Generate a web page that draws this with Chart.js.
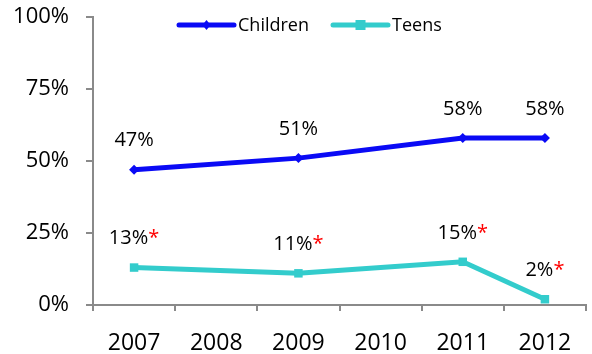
<!DOCTYPE html>
<html lang="en">
<head>
    <meta charset="UTF-8">
    <title>Children and Teens</title>
    <script src="https://cdn.jsdelivr.net/npm/chart.js"></script>
    <style>
        body { margin: 0; background: #fff; }
        #chart { display: block; }
    </style>
</head>
<body>
    <canvas id="chart" width="592" height="354"></canvas>
    <script>
        const years = ['2007', '2008', '2009', '2010', '2011', '2012'];
        const children = [47, null, 51, null, 58, 58];
        const teens = [13, null, 11, null, 15, 2];
        const yTicks = [0, 25, 50, 75, 100];

        const FONT = '"Open Sans", sans-serif';
        const AXIS = '#8a8a8a';

        // value labels above each point, teens get a red asterisk
        const valueLabels = {
            id: 'valueLabels',
            afterDatasetsDraw(chart) {
                const ctx = chart.ctx;
                ctx.save();
                ctx.font = '20px ' + FONT;
                ctx.textBaseline = 'middle';
                chart.data.datasets.forEach((ds, i) => {
                    const meta = chart.getDatasetMeta(i);
                    meta.data.forEach((pt, j) => {
                        const v = ds.data[j];
                        if (v === null) return;
                        const txt = v + '%';
                        const star = ds.star ? '*' : '';
                        const w1 = ctx.measureText(txt).width;
                        const w2 = star ? ctx.measureText(star).width : 0;
                        const x0 = pt.x - (w1 + w2) / 2;
                        const y = pt.y - 29;
                        ctx.textAlign = 'left';
                        ctx.fillStyle = '#000';
                        ctx.fillText(txt, x0, y);
                        if (star) {
                            ctx.fillStyle = '#ff0000';
                            ctx.fillText(star, x0 + w1, y);
                        }
                    });
                });
                ctx.restore();
            }
        };

        // legend drawn as line samples with a marker in the middle
        const lineLegend = {
            id: 'lineLegend',
            afterDraw(chart) {
                const ctx = chart.ctx;
                const items = [{ x: 179 }, { x: 333 }];
                const y = 25;
                ctx.save();
                ctx.font = '18px ' + FONT;
                ctx.textBaseline = 'middle';
                chart.data.datasets.forEach((ds, i) => {
                    const x = items[i].x;
                    ctx.strokeStyle = ds.borderColor;
                    ctx.lineWidth = 5;
                    ctx.lineCap = 'round';
                    ctx.beginPath();
                    ctx.moveTo(x, y);
                    ctx.lineTo(x + 55, y);
                    ctx.stroke();
                    ctx.fillStyle = ds.borderColor;
                    const cx = x + 27.5;
                    if (ds.pointStyle === 'rectRot') {
                        ctx.beginPath();
                        ctx.moveTo(cx, y - 5);
                        ctx.lineTo(cx + 4, y);
                        ctx.lineTo(cx, y + 5);
                        ctx.lineTo(cx - 4, y);
                        ctx.closePath();
                        ctx.fill();
                    } else {
                        ctx.fillRect(cx - 5, y - 5, 10, 10);
                    }
                    ctx.fillStyle = '#000';
                    ctx.textAlign = 'left';
                    ctx.fillText(ds.label, x + 59, y + 1);
                });
                ctx.restore();
            }
        };

        new Chart(document.getElementById('chart'), {
            type: 'line',
            data: {
                labels: years,
                datasets: [
                    {
                        label: 'Children',
                        data: children,
                        borderColor: '#0a0af5',
                        backgroundColor: '#0a0af5',
                        borderWidth: 5,
                        pointStyle: 'rectRot',
                        pointRadius: 5,
                        pointBorderWidth: 0,
                        spanGaps: true,
                        star: false
                    },
                    {
                        label: 'Teens',
                        data: teens,
                        borderColor: '#33cccc',
                        backgroundColor: '#33cccc',
                        borderWidth: 5,
                        pointStyle: 'rect',
                        pointRadius: 6,
                        pointBorderWidth: 0,
                        spanGaps: true,
                        star: true
                    }
                ]
            },
            options: {
                responsive: false,
                animation: false,
                layout: { padding: { top: 17, right: 0, left: 0, bottom: 0 } },
                plugins: {
                    legend: { display: false },
                    tooltip: { enabled: false }
                },
                scales: {
                    x: {
                        offset: true,
                        grid: {
                            offset: true,
                            drawOnChartArea: false,
                            drawTicks: true,
                            tickLength: 6,
                            color: AXIS,
                            lineWidth: 2
                        },
                        border: { color: AXIS, width: 2 },
                        ticks: {
                            color: '#000',
                            font: { family: FONT, size: 23 },
                            padding: 19,
                            maxRotation: 0,
                            autoSkip: false
                        },
                        afterFit(scale) {
                            scale.height = 49;
                            scale.paddingLeft = 0;
                            scale.paddingRight = 0;
                        }
                    },
                    y: {
                        min: 0,
                        max: 100,
                        afterBuildTicks(scale) {
                            scale.ticks = yTicks.map(v => ({ value: v }));
                        },
                        grid: {
                            drawOnChartArea: false,
                            drawTicks: true,
                            tickLength: 7,
                            color: AXIS,
                            lineWidth: 2
                        },
                        border: { color: AXIS, width: 2 },
                        ticks: {
                            color: '#000',
                            font: { family: FONT, size: 22 },
                            padding: 17,
                            callback: v => v + '%'
                        },
                        afterFit(scale) {
                            scale.width = 93;
                            scale.paddingTop = 0;
                            scale.paddingBottom = 0;
                        }
                    }
                }
            },
            plugins: [valueLabels, lineLegend]
        });
    </script>
</body>
</html>
